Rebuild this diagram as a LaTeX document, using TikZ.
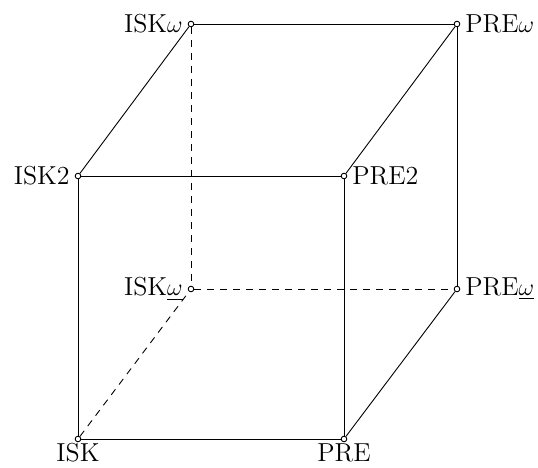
\documentclass[tikz,border=0pt]{standalone}
\usepackage{amsmath}
\usetikzlibrary{positioning}
\begin{document}
\begin{tikzpicture}[x=0.5pt,y=-0.5pt,
  font=\fontsize{13}{15}\selectfont,
  pt/.style={circle,draw,fill=white,inner sep=0pt,minimum size=2.8pt,line width=0.45pt},
  edge/.style={line width=0.45pt},
  hid/.style={edge,dash pattern=on 3.5pt off 3pt}]
\useasboundingbox (0,0) rectangle (538,468);
\node[pt] (iw) at (191,24) {};
\node[pt] (pw) at (457,24) {};
\node[pt] (i2) at (78,176) {};
\node[pt] (p2) at (344,176) {};
\node[pt] (iu) at (191,289) {};
\node[pt] (pu) at (457,289) {};
\node[pt] (i) at (78,439) {};
\node[pt] (p) at (344,439) {};
\node[left=-1pt of iw] (liw) {ISK$\omega$};
\node[right=-1pt of pw] (lpw) {PRE$\omega$};
\node[left=-1pt of i2] (li2) {ISK2};
\node[right=-1pt of p2] (lp2) {PRE2};
\node[left=-1pt of iu] (liu) {ISK$\underline{\omega}$};
\node[right=-1pt of pu] (lpu) {PRE$\underline{\omega}$};
\node[below=-3pt of i] (li) {ISK};
\node[below=-3pt of p] (lp) {PRE};
\draw[edge] (iw) -- (pw);
\draw[edge] (i2) -- (p2);
\draw[edge] (i) -- (p);
\draw[edge] (i2) -- (i);
\draw[edge] (p2) -- (p);
\draw[edge] (pw) -- (pu);
\draw[edge] (i2) -- (iw);
\draw[edge] (p2) -- (pw);
\draw[edge] (p) -- (pu);
\draw[hid] (iw) -- (iu);
\draw[hid] (iu) -- (pu);
\draw[hid] (i) -- (iu);
\end{tikzpicture}
\end{document}
